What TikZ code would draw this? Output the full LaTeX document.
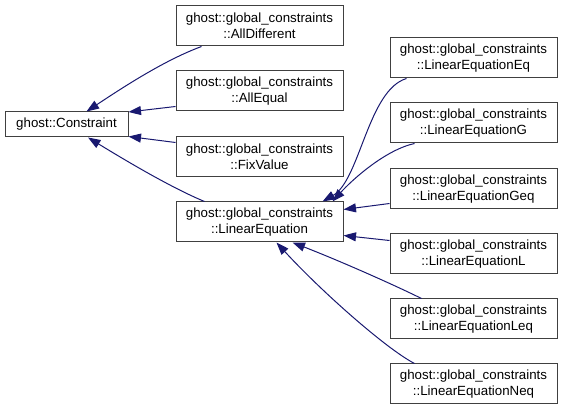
\documentclass[tikz,border=0pt]{standalone}
\usepackage{fontspec}
\setmainfont{Liberation Sans}
\usepackage{tikz}
\usetikzlibrary{arrows.meta}

\definecolor{edgeblue}{RGB}{25,25,112}

\begin{document}
\begin{tikzpicture}[
    x=1pt, y=-1pt,
    every node/.style={
        draw=black!75,
        line width=1pt,
        fill=white,
        align=center,
        inner sep=0pt,
        font=\fontsize{13.3}{16}\selectfont,
        minimum width=167pt,
        minimum height=40pt
    },
    edge/.style={
        draw=edgeblue,
        line width=1pt,
        {Triangle[length=12.5pt,width=9pt]}-
    }
]
\useasboundingbox (0,0) rectangle (563,411);

% Base class
\node[minimum width=123pt, minimum height=25pt] (Constraint) at (66.5,124.5) {ghost::Constraint};

% Direct children
\node (AllDifferent) at (259.5,26) {ghost::global\_constraints\\::AllDifferent};
\node (AllEqual) at (259.5,91) {ghost::global\_constraints\\::AllEqual};
\node (FixValue) at (259.5,157) {ghost::global\_constraints\\::FixValue};
\node (LinEq) at (259.5,222) {ghost::global\_constraints\\::LinearEquation};

% Children of LinearEquation
\node (LinEqEq) at (473.5,58) {ghost::global\_constraints\\::LinearEquationEq};
\node (LinEqG) at (473.5,123) {ghost::global\_constraints\\::LinearEquationG};
\node (LinEqGeq) at (473.5,189) {ghost::global\_constraints\\::LinearEquationGeq};
\node (LinEqL) at (473.5,254) {ghost::global\_constraints\\::LinearEquationL};
\node (LinEqLeq) at (473.5,319) {ghost::global\_constraints\\::LinearEquationLeq};
\node (LinEqNeq) at (473.5,384) {ghost::global\_constraints\\::LinearEquationNeq};

\draw[edge] ([xshift=20pt]Constraint.north) .. controls (125,86) and (165,60) .. ([xshift=26pt]AllDifferent.south west);
\draw[edge] ([yshift=-0.5pt]Constraint.north east) -- ([yshift=5pt]AllEqual.south west);
\draw[edge] ([yshift=1pt]Constraint.south east) -- ([yshift=-6pt]FixValue.north west);
\draw[edge] ([xshift=21.5pt]Constraint.south) .. controls (128,162) and (172,188) .. ([xshift=29pt]LinEq.north west);

\draw[edge] ([xshift=-21pt]LinEq.north east) .. controls (360,180) and (368,90) .. ([xshift=17pt]LinEqEq.south west);
\draw[edge] ([xshift=-11pt]LinEq.north east) .. controls (352,180) and (385,150) .. ([xshift=25pt]LinEqG.south west);
\draw[edge] ([yshift=-8pt]LinEq.north east) -- ([yshift=6pt]LinEqGeq.south west);
\draw[edge] ([yshift=7pt]LinEq.south east) -- ([yshift=-7pt]LinEqL.north west);
\draw[edge] ([xshift=117pt]LinEq.south west) .. controls (335,259) and (388,282) .. ([xshift=32pt]LinEqLeq.north west);
\draw[edge] ([xshift=101pt]LinEq.south west) .. controls (320,290) and (385,348) .. ([xshift=25pt]LinEqNeq.north west);

\end{tikzpicture}
\end{document}
